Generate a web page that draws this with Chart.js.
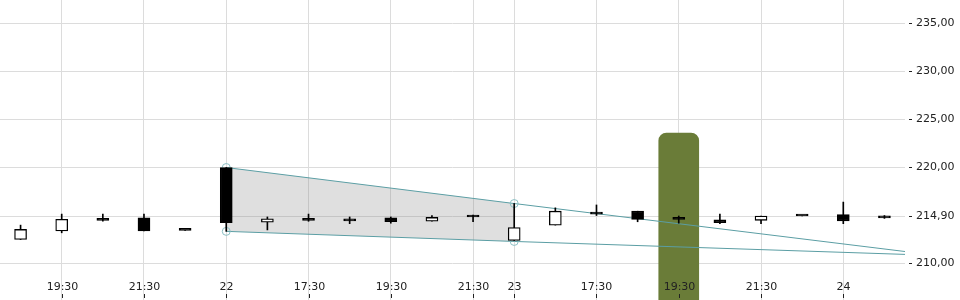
<!DOCTYPE html>
<html lang="en">
<head>
  <meta charset="UTF-8">
  <title>Candles</title>
  <script src="https://cdn.jsdelivr.net/npm/chart.js"></script>
  <style>
    html, body { margin: 0; padding: 0; background: #fff; }
  </style>
</head>
<body>
<canvas id="candleChart" width="960" height="300"></canvas>

<script>
  // candle data, one entry per hour slot (x = 0..21)
  const opens  = [212.45, 213.35, 214.65, 214.7, 213.4, 219.95, 214.25, 214.45, 214.55, 214.7, 214.35,
                  215.0, 212.35, 213.95, 215.3, 215.4, 214.55, 214.5, 214.45, 214.9, 215.05, 214.9];
  const highs  = [213.95, 215.1, 215.1, 215.1, 213.4, 219.95, 214.8, 215.1, 214.8, 214.8, 214.95,
                  215.0, 216.2, 215.75, 216.05, 215.4, 214.9, 215.1, 214.9, 214.9, 216.35, 214.95];
  const lows   = [212.45, 213.15, 214.35, 213.35, 213.4, 213.3, 213.45, 214.35, 214.1, 214.15, 214.35,
                  214.3, 212.35, 213.95, 214.95, 214.3, 214.15, 214.1, 214.1, 214.9, 214.1, 214.65];
  const closes = [213.5, 214.55, 214.45, 213.35, 213.4, 214.2, 214.6, 214.45, 214.4, 214.3, 214.75,
                  214.8, 213.7, 215.4, 215.1, 214.55, 214.55, 214.2, 214.9, 214.9, 214.4, 214.7];

  // x axis labels and where they sit
  const xTickPos    = [1, 3, 5, 7, 9, 11, 12, 14, 16, 18, 20];
  const xTickLabels = ['19:30', '21:30', '22', '17:30', '19:30', '21:30', '23', '17:30', '19:30', '21:30', '24'];

  // y axis ticks (214,90 = last price)
  const yTicks = [210, 214.9, 220, 225, 230, 235];

  // trend channel (anchored on candle 5 and 12, extended to the right edge)
  const upperLine = [{x: 5, y: 219.95}, {x: 12, y: 216.2}, {x: 21.5, y: 211.2}];
  const lowerLine = [{x: 5, y: 213.3}, {x: 12, y: 212.25}, {x: 21.5, y: 210.9}];

  // highlighted slot
  const highlightSlot = 16;
  const highlightRange = [206, 223.55];

  const bodies = opens.map((o, i) => ({x: i, y: [o, closes[i]]}));
  const wicks = highs.map((h, i) => ({x: i, y: [lows[i], h]}));
  const bodyColors = opens.map((o, i) => closes[i] > o ? '#ffffff' : '#000000');

  const xLabelPlugin = {
    id: 'xLabels',
    afterDraw(chart) {
      const ctx = chart.ctx;
      const x = chart.scales.x;
      ctx.save();
      ctx.font = '11px "DejaVu Sans"';
      ctx.fillStyle = '#222';
      ctx.strokeStyle = '#222';
      ctx.lineWidth = 1;
      ctx.textAlign = 'center';
      ctx.textBaseline = 'middle';
      xTickPos.forEach((pos, i) => {
        const px = Math.round(x.getPixelForValue(pos)) + 0.5;
        ctx.fillText(xTickLabels[i], px, 287);
        ctx.beginPath();
        ctx.moveTo(px, 294);
        ctx.lineTo(px, 298);
        ctx.stroke();
      });
      ctx.restore();
    }
  };

  const ctx = document.getElementById('candleChart').getContext('2d');
  new Chart(ctx, {
    type: 'bar',
    data: {
      datasets: [
        {
          type: 'line',
          data: upperLine,
          borderColor: '#5b9ea4',
          borderWidth: 1,
          pointRadius: [4, 4, 0],
          pointBorderColor: '#8cc0c5',
          pointBackgroundColor: 'rgba(0,0,0,0)',
          pointBorderWidth: 1,
          fill: false,
          order: 3
        },
        {
          type: 'line',
          data: lowerLine,
          borderColor: '#5b9ea4',
          borderWidth: 1,
          pointRadius: [4, 4, 0],
          pointBorderColor: '#8cc0c5',
          pointBackgroundColor: 'rgba(0,0,0,0)',
          pointBorderWidth: 1,
          fill: false,
          order: 3
        },
        {
          // shaded part of the channel
          type: 'line',
          data: upperLine.slice(0, 2),
          borderWidth: 0,
          pointRadius: 0,
          fill: '+1',
          backgroundColor: 'rgba(128,128,128,0.25)',
          order: 4
        },
        {
          type: 'line',
          data: lowerLine.slice(0, 2),
          borderWidth: 0,
          pointRadius: 0,
          fill: false,
          order: 4
        },
        {
          data: [{x: highlightSlot, y: highlightRange}],
          backgroundColor: '#6a7c38',
          barThickness: 40,
          borderRadius: {topLeft: 8, topRight: 8, bottomLeft: 0, bottomRight: 0},
          borderSkipped: false,
          grouped: false,
          order: 5
        },
        {
          data: wicks,
          backgroundColor: '#000',
          barThickness: 1,
          grouped: false,
          order: 2
        },
        {
          data: bodies,
          backgroundColor: bodyColors,
          borderColor: '#000',
          borderWidth: 1.3,
          borderSkipped: false,
          barThickness: 12,
          minBarLength: 2,
          grouped: false,
          order: 1
        }
      ]
    },
    options: {
      responsive: false,
      animation: false,
      devicePixelRatio: 1,
      layout: { padding: 0, autoPadding: false },
      plugins: {
        legend: { display: false },
        tooltip: { enabled: false }
      },
      scales: {
        x: {
          type: 'linear',
          min: -0.5,
          max: 21.5,
          offset: false,
          grid: { color: '#dcdcdc', offset: false, drawTicks: false },
          border: { display: false },
          ticks: { display: false },
          afterBuildTicks: scale => { scale.ticks = xTickPos.map(v => ({value: v})); },
          afterFit: scale => {
            scale.height = 0;
            scale.paddingLeft = 0;
            scale.paddingRight = 0;
            scale.paddingTop = 0;
            scale.paddingBottom = 0;
          }
        },
        y: {
          position: 'right',
          min: 206.15,
          max: 237.4,
          grid: {
            color: '#dcdcdc',
            tickLength: 7,
            tickColor: '#222',
            tickBorderDash: [0, 4, 4]
          },
          border: { display: false },
          ticks: {
            padding: 4,
            color: '#222',
            font: { family: 'DejaVu Sans', size: 11 },
            callback: v => v.toFixed(2).replace('.', ',')
          },
          afterBuildTicks: scale => { scale.ticks = yTicks.map(v => ({value: v})); },
          afterFit: scale => {
            scale.width = 55;
            scale.paddingTop = 0;
            scale.paddingBottom = 0;
            scale.paddingLeft = 0;
            scale.paddingRight = 0;
          }
        }
      }
    },
    plugins: [xLabelPlugin]
  });
</script>
</body>
</html>
